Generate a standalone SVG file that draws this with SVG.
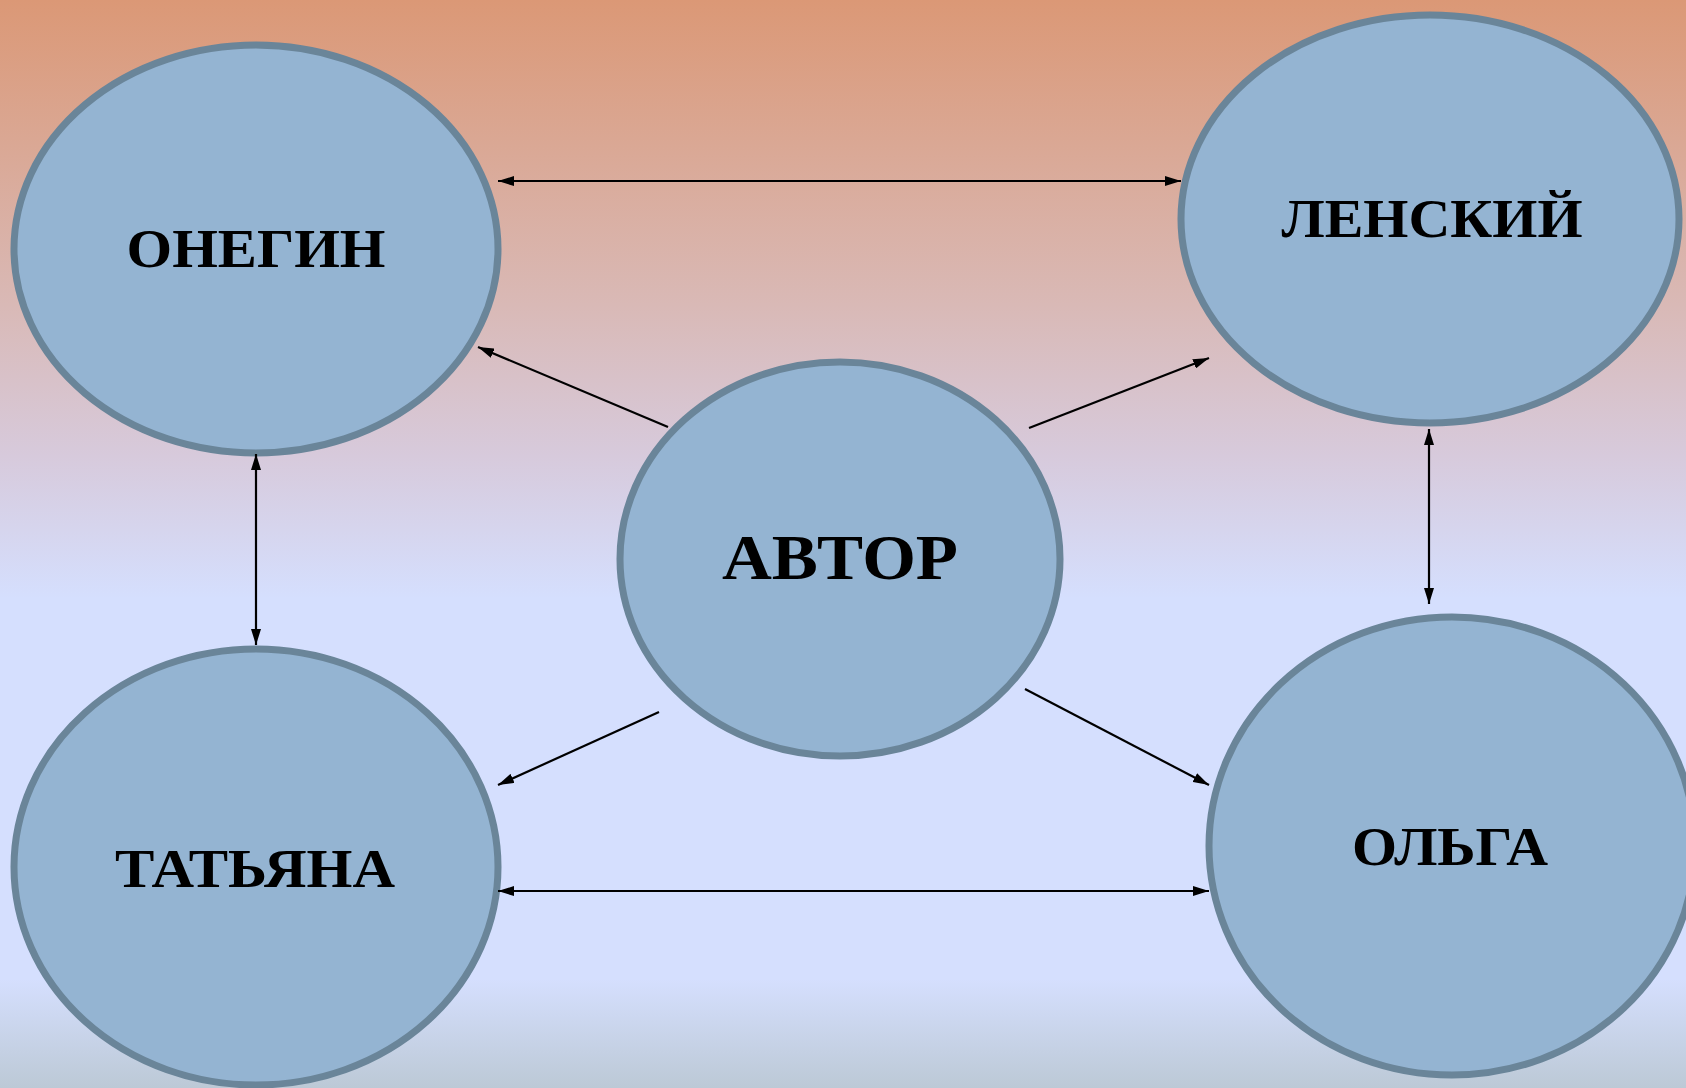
<svg xmlns="http://www.w3.org/2000/svg" width="1686" height="1088" viewBox="0 0 1686 1088">
<defs>
<linearGradient id="bg" x1="0" y1="0" x2="0" y2="1">
<stop offset="0" stop-color="#DB9876"/>
<stop offset="0.28" stop-color="#D9B9B6"/>
<stop offset="0.42" stop-color="#D7CADC"/>
<stop offset="0.55" stop-color="#D5DFFE"/>
<stop offset="0.9" stop-color="#D5DFFE"/>
<stop offset="1" stop-color="#BCC9D6"/>
</linearGradient>
<marker id="ah" viewBox="0 0 16 10" refX="16" refY="5" markerWidth="16" markerHeight="10" markerUnits="userSpaceOnUse" orient="auto-start-reverse">
<path d="M0,0 L16,5 L0,10 Z" fill="#000"/>
</marker>
<style>
.node{fill:#94B4D2;stroke:#6A8599;stroke-width:7}
.lbl{font-family:"Liberation Serif","Times New Roman",serif;font-weight:bold;fill:#000;text-anchor:middle}
.c{stroke:#000;stroke-width:2.2;fill:none}
</style>
</defs>
<rect x="0" y="0" width="1686" height="1088" fill="url(#bg)"/>
<g id="onegin"><ellipse class="node" cx="256" cy="249" rx="242" ry="204"/><text class="lbl" x="256" y="267" font-size="55" textLength="259" lengthAdjust="spacingAndGlyphs">ОНЕГИН</text></g>
<g id="lensky"><ellipse class="node" cx="1430" cy="219" rx="249" ry="204"/><text class="lbl" x="1432" y="237" font-size="55" textLength="301" lengthAdjust="spacingAndGlyphs">ЛЕНСКИЙ</text></g>
<g id="avtor"><ellipse class="node" cx="840" cy="559" rx="220" ry="197"/><text class="lbl" x="840" y="579" font-size="64" textLength="236" lengthAdjust="spacingAndGlyphs">АВТОР</text></g>
<g id="tatyana"><ellipse class="node" cx="256" cy="867" rx="242" ry="218"/><text class="lbl" x="255" y="887" font-size="55" textLength="280" lengthAdjust="spacingAndGlyphs">ТАТЬЯНА</text></g>
<g id="olga"><ellipse class="node" cx="1452" cy="846" rx="243" ry="229"/><text class="lbl" x="1450" y="865" font-size="55" textLength="196" lengthAdjust="spacingAndGlyphs">ОЛЬГА</text></g>
<g id="connectors">
<line class="c" x1="498" y1="181" x2="1181" y2="181" marker-start="url(#ah)" marker-end="url(#ah)"/>
<line class="c" x1="668" y1="427" x2="478" y2="347" marker-end="url(#ah)"/>
<line class="c" x1="1029" y1="428" x2="1209" y2="358" marker-end="url(#ah)"/>
<line class="c" x1="256" y1="454" x2="256" y2="645" marker-start="url(#ah)" marker-end="url(#ah)"/>
<line class="c" x1="1429" y1="429" x2="1429" y2="604" marker-start="url(#ah)" marker-end="url(#ah)"/>
<line class="c" x1="659" y1="712" x2="498" y2="785" marker-end="url(#ah)"/>
<line class="c" x1="1025" y1="689" x2="1209" y2="785" marker-end="url(#ah)"/>
<line class="c" x1="498" y1="891" x2="1209" y2="891" marker-start="url(#ah)" marker-end="url(#ah)"/>
</g>
</svg>
